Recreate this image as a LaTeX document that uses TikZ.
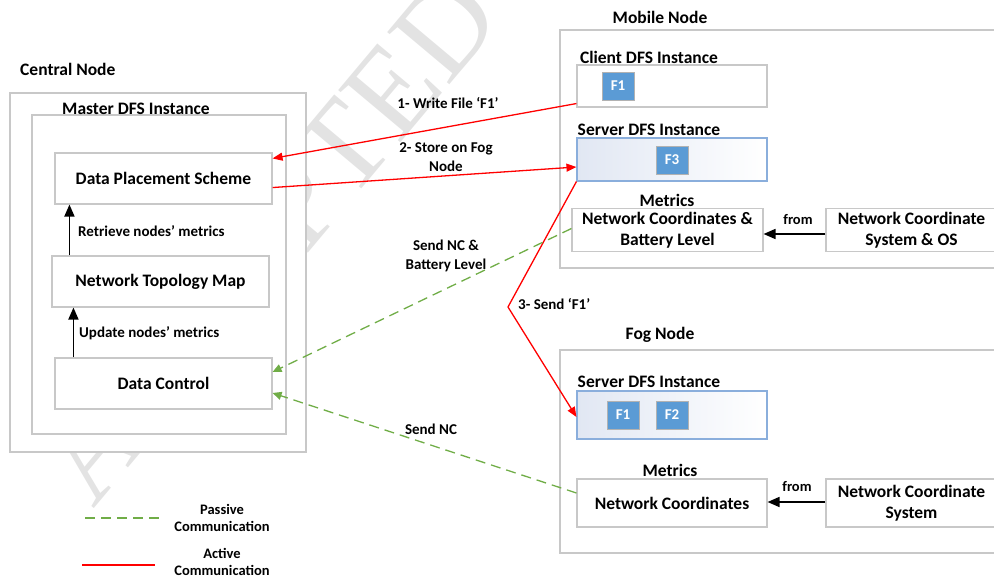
\documentclass[tikz,border=0pt]{standalone}
\usepackage{fontspec}
\setmainfont{Carlito}
\newfontfamily\wmfont{Liberation Serif}
\usetikzlibrary{arrows.meta,calc}

\definecolor{boxgray}{HTML}{C8C8C8}
\definecolor{fblue}{HTML}{5B9BD5}
\definecolor{srvborder}{HTML}{8AAEDC}
\definecolor{srvshade}{HTML}{E1E7F3}
\definecolor{passivegreen}{HTML}{70AD47}
\definecolor{wmgray}{HTML}{E3E3E3}

\tikzset{
  box/.style={draw=boxgray, line width=1.1pt, fill=white, inner sep=0pt,
    align=center, font=\bfseries\fontsize{17.5}{21}\selectfont},
  srvbox/.style={draw=srvborder, line width=1.1pt, left color=srvshade,
    right color=white, inner sep=0pt},
  fsq/.style={draw=black!30, line width=0.8pt, fill=fblue, text=white,
    minimum width=32pt, minimum height=28pt, inner sep=0pt,
    font=\bfseries\fontsize{15}{18}\selectfont},
  title/.style={inner sep=0pt, font=\bfseries\fontsize{17.5}{21}\selectfont},
  lbl/.style={inner sep=0pt, align=center, font=\bfseries\fontsize{15}{18.5}\selectfont},
  legendlbl/.style={inner sep=0pt, align=center, font=\bfseries\fontsize{14.5}{17.5}\selectfont},
  active/.style={red, line width=1.3pt, -{Triangle[length=10pt,width=8pt]}},
  passive/.style={passivegreen, line width=1.3pt, dash pattern=on 10pt off 6pt,
    -{Triangle[length=9pt,width=8pt]}},
  flow/.style={black, line width=1.7pt, -{Triangle[length=12pt,width=10pt]}},
}

\begin{document}
\begin{tikzpicture}[x=1pt, y=-1pt]
\useasboundingbox (0,0) rectangle (994,578);
\clip (0,0) rectangle (994,578);

% faint watermark behind everything
\node[text=wmgray, rotate=50, inner sep=0pt, font=\wmfont\fontsize{124}{124}\selectfont]
  (wm) at (268,238) {ACCEPTED};

% ---------------- Central node ----------------
\node[title, anchor=west] (centralT) at (20,69) {Central Node};
\node[box, minimum width=296pt, minimum height=359pt] (central) at (158,272.5) {};
\node[box, minimum width=254pt, minimum height=319pt] (master) at (159,274.5) {};
\node[title] (masterT) at (136,109) {Master DFS Instance};

\node[box, minimum width=217pt, minimum height=51pt] (dps) at (163.5,178.5) {Data Placement Scheme};
\node[box, minimum width=217pt, minimum height=51pt] (ntm) at (160.5,281.5) {Network Topology Map};
\node[box, minimum width=217pt, minimum height=51pt] (dc)  at (163.5,383.5) {Data Control};

\draw[flow] ($(ntm.north west)+(18,0)$) coordinate (u1) -- (u1 |- dps.south);
\draw[flow] ($(dc.north west)+(19,0)$) coordinate (u2) -- (u2 |- ntm.south);
\node[lbl, anchor=west] (retr) at (78,231) {Retrieve nodes’ metrics};
\node[lbl, anchor=west] (upd)  at (79,333) {Update nodes’ metrics};

% ---------------- Mobile node ----------------
\node[title] (mobileT) at (660,17) {Mobile Node};
\node[box, minimum width=445pt, minimum height=238pt] (mobile) at (782.5,149) {};

\node[title] (clientT) at (649,57) {Client DFS Instance};
\node[box, minimum width=190pt, minimum height=42pt] (client) at (672,86) {};
\node[fsq] (mf1) at (618,86) {F1};

\node[title] (srvmT) at (649,130) {Server DFS Instance};
\node[srvbox, minimum width=190pt, minimum height=43pt] (srvm) at (672,159.5) {};
\node[fsq] (mf3) at (672,160) {F3};

\node[title] (metmT) at (667,200) {Metrics};
\node[box, minimum width=191pt, minimum height=43pt] (ncbl) at (667.5,230)
  {Network Coordinates \&\\Battery Level};
\node[box, minimum width=171pt, minimum height=43pt] (ncsos) at (911.5,230)
  {Network Coordinate\\System \& OS};
\draw[flow] ($(ncsos.west)+(0,4)$) coordinate (fm) -- (fm -| ncbl.east);
\node[legendlbl] (fromm) at (798,220) {from};

% ---------------- Fog node ----------------
\node[title] (fogT) at (660,335) {Fog Node};
\node[box, minimum width=445pt, minimum height=203pt] (fog) at (782.5,451.5) {};

\node[title] (srvfT) at (649,382) {Server DFS Instance};
\node[srvbox, minimum width=190pt, minimum height=48pt] (srvf) at (672,415) {};
\node[fsq] (ff1) at (623,415) {F1};
\node[fsq] (ff2) at (672,415) {F2};

\node[title] (metfT) at (670,470) {Metrics};
\node[box, minimum width=190pt, minimum height=48pt] (ncf) at (672,503) {Network Coordinates};
\node[box, minimum width=171pt, minimum height=48pt] (ncs) at (911.5,503)
  {Network Coordinate\\System};
\draw[flow] ($(ncs.west)+(0,-1)$) coordinate (ff) -- (ff -| ncf.east);
\node[legendlbl] (fromf) at (797,487) {from};

% ---------------- Communication ----------------
\draw[active] ($(client.south west)+(0,-4)$) -- ($(dps.north east)+(0,6)$);
\node[lbl] (l1) at (448,103) {1- Write File ‘F1’};

\draw[active] ($(dps.south east)+(0,-17)$) -- ($(srvm.west)+(0,7.5)$);
\node[lbl] (l2) at (446,157) {2- Store on Fog\\Node};

\coordinate (bend) at (508,307);
\draw[active] (srvm.south west) -- (bend) -- ($(srvf.west)+(0,2)$);
\node[lbl, anchor=west] (l3) at (518,304) {3- Send ‘F1’};

\draw[passive] ($(ncbl.west)+(0,-1.5)$) -- ($(dc.east)+(0,-11.5)$);
\node[lbl] (l4) at (446,256) {Send NC \&\\Battery Level};

\draw[passive] ($(ncf.west)+(0,-10)$) -- ($(dc.east)+(0,9.5)$);
\node[lbl] (l5) at (431,429) {Send NC};

% ---------------- Legend ----------------
\coordinate (pa) at (85,518);
\coordinate (pb) at (160,518);
\draw[passivegreen, line width=1.3pt, dash pattern=on 10pt off 6pt] (pa) -- (pb);
\node[legendlbl] (lp) at (222,518) {Passive\\Communication};

\coordinate (aa) at (82,565);
\coordinate (ab) at (155,565);
\draw[red, line width=1.3pt] (aa) -- (ab);
\node[legendlbl] (la) at (222,562) {Active\\Communication};
\end{tikzpicture}
\end{document}
